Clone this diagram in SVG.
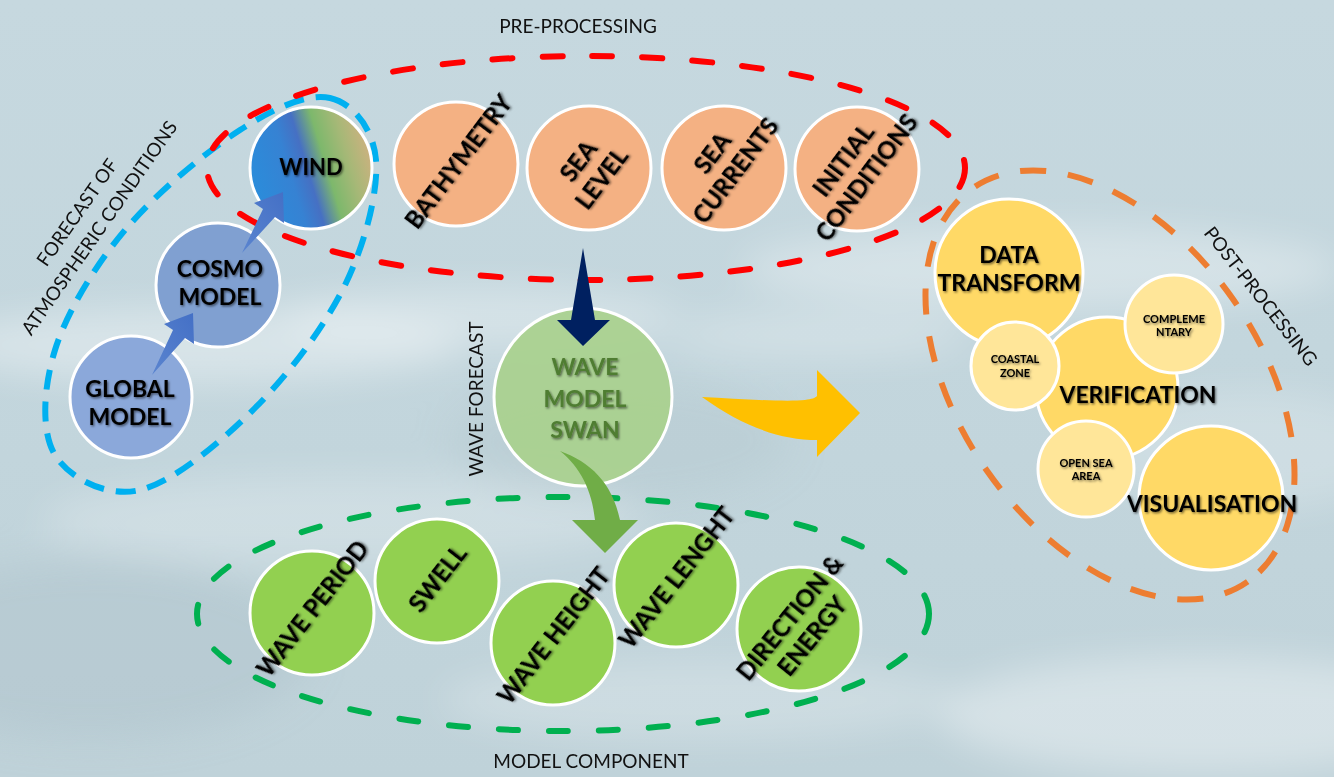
<svg xmlns="http://www.w3.org/2000/svg" width="1334" height="777" viewBox="0 0 1334 777">
  <defs>
    <linearGradient id="sky" x1="0" y1="0" x2="0" y2="1">
      <stop offset="0" stop-color="#c6d8df"/>
      <stop offset="0.45" stop-color="#c3d6dd"/>
      <stop offset="1" stop-color="#bfd2d9"/>
    </linearGradient>
    <linearGradient id="windFill" x1="0" y1="0.65" x2="1" y2="0.35">
      <stop offset="0" stop-color="#2a8ddb"/>
      <stop offset="0.33" stop-color="#3682d3"/>
      <stop offset="0.47" stop-color="#4670c3"/>
      <stop offset="0.62" stop-color="#7db86c"/>
      <stop offset="0.8" stop-color="#a6b877"/>
      <stop offset="1" stop-color="#cfb180"/>
    </linearGradient>
    <linearGradient id="blueArrow" x1="0" y1="1" x2="1" y2="0">
      <stop offset="0" stop-color="#5a84cf"/>
      <stop offset="1" stop-color="#4470c6"/>
    </linearGradient>
    <filter id="haze" x="-20%" y="-50%" width="140%" height="200%">
      <feGaussianBlur stdDeviation="18"/>
    </filter>
    <filter id="shade" x="-10%" y="-30%" width="120%" height="160%">
      <feDropShadow dx="1.2" dy="1.4" stdDeviation="1.2" flood-color="#000" flood-opacity="0.55"/>
    </filter>
  </defs>
  <style>
    .node { stroke: #ffffff; stroke-width: 3; }
    .pre { fill: #f4b183; }
    .comp { fill: #92d050; }
    .post { fill: #ffd966; }
    .sub { fill: #ffe699; }
    .lbl { font-family: Lato, "Liberation Sans", sans-serif; font-weight: 700; font-size: 24px; fill: #000; text-anchor: middle; filter: url(#shade); }
    .small { font-size: 11px; }
    .swan { font-size: 23px; fill: #4f7d31; }
    .grp { font-family: Lato, "Liberation Sans", sans-serif; font-weight: 400; font-size: 19px; fill: #111; text-anchor: middle; }
    .ring { fill: none; stroke-width: 6; }
  </style>

  <!-- sea background -->
  <rect width="1334" height="777" fill="url(#sky)"/>
  <g id="background-foam" filter="url(#haze)">
    <ellipse cx="90" cy="650" rx="220" ry="90" fill="#a9bec6" opacity="0.35"/>
    <ellipse cx="620" cy="440" rx="170" ry="60" fill="#aec2ca" opacity="0.3"/>
    <ellipse cx="200" cy="345" rx="260" ry="38" fill="#ffffff" opacity="0.35"/>
    <ellipse cx="480" cy="318" rx="200" ry="30" fill="#ffffff" opacity="0.3"/>
    <ellipse cx="1040" cy="268" rx="300" ry="42" fill="#ffffff" opacity="0.3"/>
    <ellipse cx="820" cy="335" rx="150" ry="24" fill="#ffffff" opacity="0.25"/>
    <ellipse cx="340" cy="520" rx="300" ry="45" fill="#ffffff" opacity="0.22"/>
    <ellipse cx="700" cy="700" rx="260" ry="40" fill="#ffffff" opacity="0.22"/>
    <ellipse cx="1200" cy="715" rx="260" ry="60" fill="#ffffff" opacity="0.35"/>
    <ellipse cx="1250" cy="450" rx="150" ry="60" fill="#ffffff" opacity="0.2"/>
  </g>

  <!-- group outlines -->
  <g id="groups">
    <path id="atmo-ring" class="ring" stroke="#00b0f0" stroke-width="5" stroke-dasharray="20 12"
      d="M330,98 C352.7,103 373.5,128.8 376,160 C378.5,191.2 365.2,243.7 345,285 C324.8,326.3 289.2,373.8 255,408 C220.8,442.2 173.3,482.2 140,490 C106.7,497.8 69.2,478.3 55,455 C40.8,431.7 43.3,387.5 55,350 C66.7,312.5 94.2,266.7 125,230 C155.8,193.3 205.8,152 240,130 C274.2,108 307.3,93 330,98 Z"/>
    <ellipse id="pre-ring" class="ring" cx="586" cy="168" rx="379" ry="112" stroke="#ff0000" stroke-linecap="round" stroke-dasharray="20 30"/>
    <ellipse id="comp-ring" class="ring" cx="563" cy="614" rx="366" ry="117" stroke="#00b050" stroke-linecap="round" stroke-dasharray="19 31"/>
    <ellipse id="post-ring" class="ring" cx="0" cy="0" rx="240" ry="150" transform="translate(1110,385) rotate(55)" stroke="#ed7d31" stroke-dasharray="26 22"/>
  </g>

  <!-- group captions -->
  <g id="captions">
    <text class="grp" x="578" y="33">PRE-PROCESSING</text>
    <text class="grp" x="591" y="768">MODEL COMPONENT</text>
    <text class="grp" transform="translate(483,399) rotate(-90)">WAVE FORECAST</text>
    <g transform="translate(88,220) rotate(-55)">
      <text class="grp" y="-6.5">FORECAST OF</text>
      <text class="grp" y="20.5">ATMOSPHERIC CONDITIONS</text>
    </g>
    <text class="grp" transform="translate(1261,296) rotate(52)" y="7">POST-PROCESSING</text>
  </g>

  <!-- atmospheric chain -->
  <g id="node-global">
    <circle class="node" cx="131" cy="397" r="61" fill="#8ba8da"/>
    <text class="lbl" style="font-size:23px" x="130" y="397">GLOBAL</text>
    <text class="lbl" style="font-size:23px" x="130" y="425">MODEL</text>
  </g>
  <g id="node-cosmo">
    <circle class="node" cx="218" cy="285" r="62" fill="#80a0d1"/>
    <text class="lbl" style="font-size:23px" x="220" y="277">COSMO</text>
    <text class="lbl" style="font-size:23px" x="220" y="305">MODEL</text>
  </g>
  <g id="node-wind">
    <circle class="node" cx="311" cy="168" r="61" fill="url(#windFill)"/>
    <text class="lbl" style="font-size:22px" x="311" y="175">WIND</text>
  </g>

  <!-- pre-processing inputs -->
  <g id="node-bathymetry">
    <circle class="node pre" cx="456" cy="164" r="62"/>
    <text class="lbl" transform="translate(459,162) rotate(-53)" y="8">BATHYMETRY</text>
  </g>
  <g id="node-sea-level">
    <circle class="node pre" cx="589" cy="168" r="62"/>
    <g transform="translate(590,170) rotate(-53)">
      <text class="lbl" y="-6.5">SEA</text>
      <text class="lbl" y="22.5">LEVEL</text>
    </g>
  </g>
  <g id="node-sea-currents">
    <circle class="node pre" cx="724" cy="168" r="62"/>
    <g transform="translate(724,162) rotate(-53)">
      <text class="lbl" y="-6.5">SEA</text>
      <text class="lbl" y="22.5">CURRENTS</text>
    </g>
  </g>
  <g id="node-initial-conditions">
    <circle class="node pre" cx="857" cy="169" r="62"/>
    <g transform="translate(855,169) rotate(-53)">
      <text class="lbl" y="-6.5">INITIAL</text>
      <text class="lbl" y="22.5">CONDITIONS</text>
    </g>
  </g>

  <!-- wave model -->
  <g id="node-swan">
    <circle class="node" cx="583" cy="397" r="89" fill="#a9d18e" fill-opacity="0.93"/>
    <text class="lbl swan" x="585" y="375">WAVE</text>
    <text class="lbl swan" x="585" y="407">MODEL</text>
    <text class="lbl swan" x="585" y="438">SWAN</text>
  </g>

  <!-- model components -->
  <g id="node-wave-period">
    <circle class="node comp" cx="312" cy="613" r="62"/>
    <text class="lbl" transform="translate(313,609) rotate(-52)" y="8">WAVE PERIOD</text>
  </g>
  <g id="node-swell">
    <circle class="node comp" cx="437" cy="581" r="62"/>
    <text class="lbl" transform="translate(438,579) rotate(-52)" y="8">SWELL</text>
  </g>
  <g id="node-wave-height">
    <circle class="node comp" cx="553" cy="643" r="62"/>
    <text class="lbl" transform="translate(554,636) rotate(-52)" y="8">WAVE HEIGHT</text>
  </g>
  <g id="node-wave-length">
    <circle class="node comp" cx="676" cy="585" r="62"/>
    <text class="lbl" transform="translate(677,578) rotate(-52)" y="8">WAVE LENGHT</text>
  </g>
  <g id="node-direction-energy">
    <circle class="node comp" cx="799" cy="629" r="62"/>
    <g transform="translate(801,627) rotate(-51)">
      <text class="lbl" y="-6.5">DIRECTION &amp;</text>
      <text class="lbl" y="22.5">ENERGY</text>
    </g>
  </g>

  <!-- post-processing -->
  <g id="node-data-transform">
    <circle class="node post" cx="1009" cy="273" r="74"/>
    <text class="lbl" style="font-size:23px" x="1009" y="263">DATA</text>
    <text class="lbl" style="font-size:23px" x="1009" y="291">TRANSFORM</text>
  </g>
  <g id="node-verification">
    <circle class="node post" cx="1107" cy="388" r="71"/>
    <text class="lbl" style="font-size:23px" x="1138" y="403">VERIFICATION</text>
  </g>
  <g id="node-visualisation">
    <circle class="node post" cx="1211" cy="498" r="72"/>
    <text class="lbl" style="font-size:23px" x="1212" y="512">VISUALISATION</text>
  </g>
  <g id="node-complementary">
    <circle class="node sub" cx="1174" cy="324" r="49"/>
    <text class="lbl small" x="1174" y="323">COMPLEME</text>
    <text class="lbl small" x="1174" y="336">NTARY</text>
  </g>
  <g id="node-coastal-zone">
    <circle class="node sub" cx="1015" cy="366" r="44"/>
    <text class="lbl small" x="1015" y="363">COASTAL</text>
    <text class="lbl small" x="1015" y="377">ZONE</text>
  </g>
  <g id="node-open-sea">
    <circle class="node sub" cx="1086" cy="469" r="48"/>
    <text class="lbl small" x="1086" y="467">OPEN SEA</text>
    <text class="lbl small" x="1086" y="480">AREA</text>
  </g>

  <!-- flow arrows -->
  <g id="connectors">
    <path id="arrow-global-cosmo" fill="url(#blueArrow)" d="M152,375 L173,330 L164,324 L193,313 L194,344 L185,338 Z"/>
    <path id="arrow-cosmo-wind" fill="url(#blueArrow)" d="M242,253 L263,209 L254,203 L283,192 L284,223 L275,217 Z"/>
    <path id="arrow-inputs-swan" fill="#002060" d="M583,248 L595,320 L610,320 L583,346 L557,320 L571,320 Z"/>
    <path id="arrow-swan-components" fill="#70ad47" d="M560,451 C590,462 612,482 620,520 L638,520 L605,553 L572,520 L595,520 C592,490 580,467 560,451 Z"/>
    <path id="arrow-swan-post" fill="#ffc000" d="M702,397 C740,399 785,402 805,400 C812,399 815,398 817,396 L817,370 L860,413 L817,457 L817,440 C780,440 742,426 702,397 Z"/>
  </g>
</svg>
